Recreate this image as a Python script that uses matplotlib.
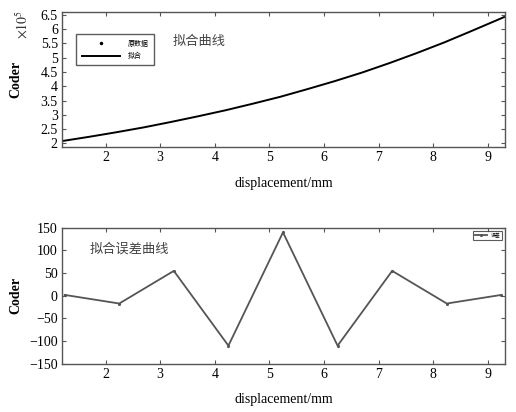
import matplotlib
matplotlib.use('Agg')
import matplotlib.pyplot as plt

plt.rcParams['font.family'] = ['Liberation Serif', 'Noto Sans CJK SC', 'DejaVu Sans']
plt.rcParams['mathtext.fontset'] = 'stix'

# fitted curve (Coder, x10^5) vs displacement
fit_x = [1.2, 1.7, 2.2, 2.7, 3.2, 3.7, 4.2, 4.7, 5.2, 5.7, 6.2, 6.7, 7.2, 7.7, 8.2, 8.7, 9.3]
fit_y = [2.08, 2.23, 2.39, 2.56, 2.75, 2.95, 3.16, 3.39, 3.63, 3.90, 4.18, 4.48, 4.81, 5.16, 5.53, 5.93, 6.42]

# fitting error
err_x = [1.25, 2.25, 3.25, 4.25, 5.25, 6.25, 7.25, 8.25, 9.25]
err_y = [2, -17, 55, -110, 140, -110, 55, -17, 2]

top_yticks = [2, 2.5, 3, 3.5, 4, 4.5, 5, 5.5, 6, 6.5]
top_yticklabels = ['2', '2.5', '3', '3.5', '4', '4.5', '5', '5.5', '6', '6.5']
bot_yticks = [-150, -100, -50, 0, 50, 100, 150]
bot_yticklabels = ['\u2212150', '\u2212100', '\u221250', '0', '50', '100', '150']
xticks = [2, 3, 4, 5, 6, 7, 8, 9]

fig = plt.figure(figsize=(5.16, 4.12), dpi=100, facecolor='white')
ax1 = fig.add_axes([0.120, 0.643, 0.859, 0.328])
ax2 = fig.add_axes([0.120, 0.117, 0.859, 0.330])

for ax in [ax1, ax2]:
    for sp in ax.spines.values():
        sp.set_color('#555555')
        sp.set_linewidth(1.0)
    ax.tick_params(direction='in', top=True, right=True, length=3,
                   width=0.8, color='#555555', labelsize=10, pad=3)
    ax.set_xlim(1.2, 9.32)
    ax.set_xticks(xticks)
    ax.set_xlabel('displacement/mm', fontsize=10, labelpad=9)
    ax.set_ylabel('Coder', fontsize=10, fontweight='bold')
    ax.yaxis.set_label_coords(-0.09, 0.5)

# top: fitted curve
ax1.plot([], [], linestyle='none', marker='.', markersize=3, color='black', label='原数据')
ax1.plot(fit_x, fit_y, color='black', linewidth=1.4, label='拟合')
ax1.set_ylim(1.87, 6.6)
ax1.set_yticks(top_yticks)
ax1.set_yticklabels(top_yticklabels)
ax1.text(0.25, 0.78, '拟合曲线', transform=ax1.transAxes, fontsize=9.5,
         color='#444444', va='center', ha='left')
ax1.text(-0.088, 0.91, r'$\times10^5$', transform=ax1.transAxes, fontsize=10,
         rotation=90, va='center', ha='center', color='#333333')
leg1 = ax1.legend(loc='upper left', bbox_to_anchor=(0.025, 0.86), fontsize=5,
                  frameon=True, fancybox=False, edgecolor='#333333',
                  handlelength=5.5, borderpad=0.8, labelspacing=0.7,
                  handletextpad=1.1)
leg1.get_frame().set_linewidth(1.0)

# bottom: error curve
ax2.plot(err_x, err_y, color='#555555', linewidth=1.3, marker='.', markersize=2.5,
         label='误差')
ax2.set_ylim(-150, 150)
ax2.set_yticks(bot_yticks)
ax2.set_yticklabels(bot_yticklabels)
ax2.text(0.063, 0.84, '拟合误差曲线', transform=ax2.transAxes, fontsize=9.5,
         color='#444444', va='center', ha='left')
leg2 = ax2.legend(loc='upper right', fontsize=3.5, frameon=True, fancybox=False,
                  edgecolor='#333333', handlelength=2.5, borderpad=0.4,
                  borderaxespad=0.6)
leg2.get_frame().set_linewidth(0.8)

fig.savefig('out.png', dpi=100, facecolor='white')
